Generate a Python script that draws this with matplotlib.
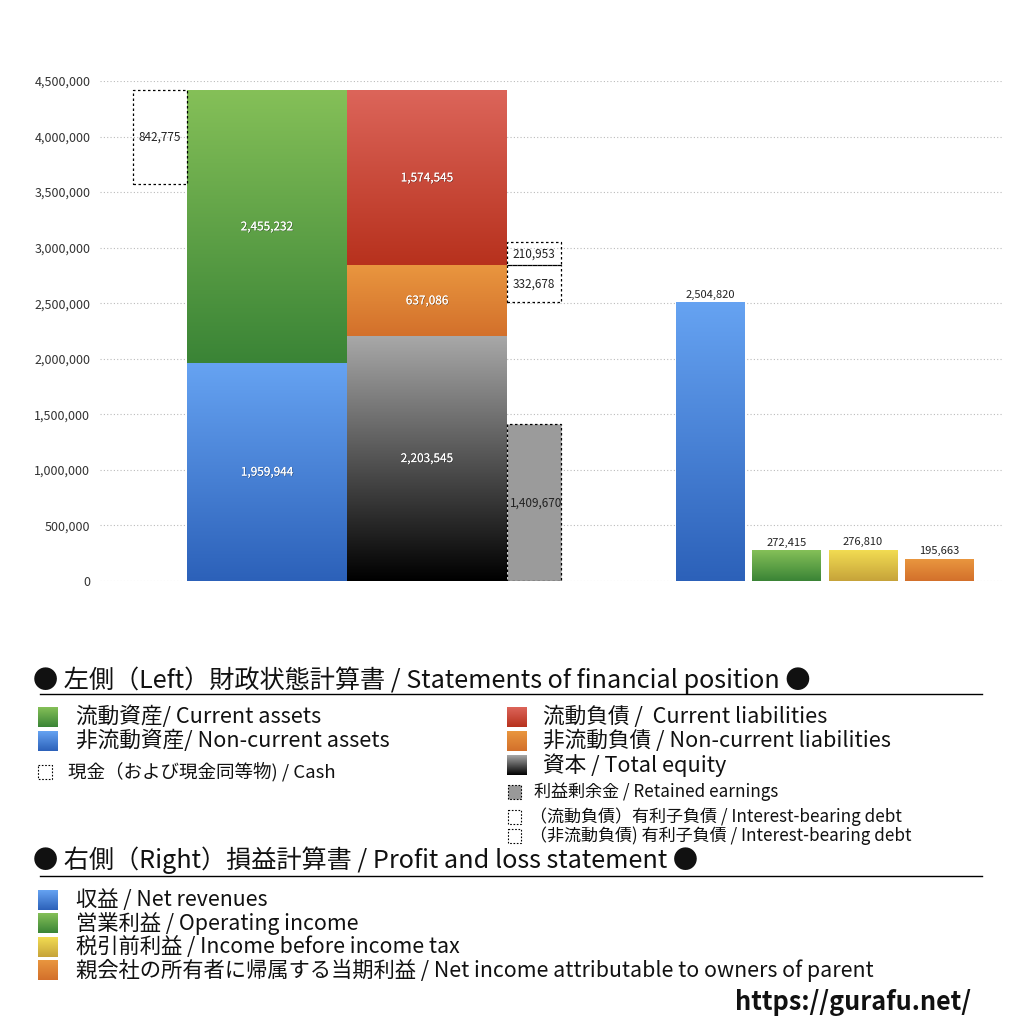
import numpy as np
import matplotlib
matplotlib.use("Agg")
import matplotlib.pyplot as plt
from matplotlib.colors import LinearSegmentedColormap
from matplotlib.patches import Rectangle
import matplotlib.patheffects as pe

plt.rcParams['font.family'] = ['Noto Sans CJK JP', 'DejaVu Sans']

# left side: statement of financial position
non_current_assets = 1959944
current_assets = 2455232
cash = 842775
equity = 2203545
non_current_liab = 637086
current_liab = 1574545
retained_earnings = 1409670
ibd_current = 210953
ibd_non_current = 332678

# right side: profit and loss
pl_values = [2504820, 272415, 276810, 195663]

yticks = np.arange(0, 4500001, 500000)

# gradient colours (top, bottom)
c_blue = ('#66a3f2', '#2c61b9')
c_green = ('#85c058', '#3a8436')
c_red = ('#dc655a', '#b7311d')
c_orange = ('#e9963f', '#d3702b')
c_gray = ('#a8a8a8', '#000000')
c_yellow = ('#f2dc52', '#c6a33a')
pl_colors = [c_blue, c_green, c_yellow, c_orange]

fig = plt.figure(figsize=(10.24, 10.24), dpi=100)
ax = fig.add_axes([100 / 1024, 1 - 581 / 1024, 903 / 1024, 500 / 1024])


def grad_bar(a, x0, w, y0, h, cols, z=2):
    cmap = LinearSegmentedColormap.from_list("g", [cols[1], cols[0]])
    g = np.linspace(0, 1, 256).reshape(-1, 1)
    a.imshow(g, extent=[x0, x0 + w, y0, y0 + h], origin='lower',
             aspect='auto', cmap=cmap, zorder=z, interpolation='bilinear')


def dotted_box(a, x0, w, y0, h, fc='none', z=3, lw=0.9):
    a.add_patch(Rectangle((x0, y0), w, h, facecolor=fc, edgecolor='black',
                          linestyle=(0, (2, 2)), lw=lw, zorder=z))


white_fx = [pe.withSimplePatchShadow(offset=(0.5, -0.5), shadow_rgbFace='#222222', alpha=0.5), pe.Normal()]

big_w = 160
small_w = 54
cash_x = 33
assets_x = cash_x + small_w
liab_x = assets_x + big_w
extra_x = liab_x + big_w

total_assets = non_current_assets + current_assets

# assets column
grad_bar(ax, assets_x, big_w, 0, non_current_assets, c_blue)
grad_bar(ax, assets_x, big_w, non_current_assets, current_assets, c_green)
ax.text(assets_x + big_w / 2, non_current_assets / 2, f"{non_current_assets:,}",
        ha='center', va='center', color='white', fontsize=8.5, path_effects=white_fx, zorder=5)
ax.text(assets_x + big_w / 2, non_current_assets + current_assets / 2, f"{current_assets:,}",
        ha='center', va='center', color='white', fontsize=8.5, path_effects=white_fx, zorder=5)

# cash box
dotted_box(ax, cash_x, small_w, total_assets - cash, cash)
ax.text(cash_x + small_w / 2, total_assets - cash / 2, f"{cash:,}",
        ha='center', va='center', color='#222222', fontsize=8.5, zorder=5)

# liabilities + equity column
grad_bar(ax, liab_x, big_w, 0, equity, c_gray)
grad_bar(ax, liab_x, big_w, equity, non_current_liab, c_orange)
grad_bar(ax, liab_x, big_w, equity + non_current_liab, current_liab, c_red)
for base, v in [(0, equity), (equity, non_current_liab), (equity + non_current_liab, current_liab)]:
    ax.text(liab_x + big_w / 2, base + v / 2, f"{v:,}", ha='center', va='center',
            color='white', fontsize=8.5, path_effects=white_fx, zorder=5)

# retained earnings and interest-bearing debt
dotted_box(ax, extra_x, small_w, 0, retained_earnings, fc='#9b9b9b')
ax.text(extra_x + small_w / 2 + 2, retained_earnings / 2, f"{retained_earnings:,}",
        ha='center', va='center', color='#222222', fontsize=8.5, zorder=5)
top_ncl = equity + non_current_liab
dotted_box(ax, extra_x, small_w, top_ncl, ibd_current)
ax.text(extra_x + small_w / 2, top_ncl + ibd_current / 2, f"{ibd_current:,}",
        ha='center', va='center', color='#222222', fontsize=8.5, zorder=5)
dotted_box(ax, extra_x, small_w, top_ncl - ibd_non_current, ibd_non_current)
ax.text(extra_x + small_w / 2, top_ncl - ibd_non_current / 2, f"{ibd_non_current:,}",
        ha='center', va='center', color='#222222', fontsize=8.5, zorder=5)

# profit and loss bars
pl_x0 = 576
pl_w = 69
pl_pitch = 76.3
for i, (v, cols) in enumerate(zip(pl_values, pl_colors)):
    x0 = pl_x0 + i * pl_pitch
    grad_bar(ax, x0, pl_w, 0, v, cols)
    ax.text(x0 + pl_w / 2, v + 25000, f"{v:,}", ha='center', va='bottom',
            color='#222222', fontsize=8, zorder=5)

ax.set_xlim(0, 903)
ax.set_ylim(0, 4500000)
ax.set_yticks(yticks)
ax.set_yticklabels([f"{t:,}" for t in yticks], fontsize=9, color='#333333')
ax.tick_params(axis='y', length=0, pad=7)
ax.set_xticks([])
ax.yaxis.grid(True, linestyle=(0, (1, 2)), color='#bbbbbb', lw=0.8, zorder=0)
ax.set_axisbelow(True)
for s in ax.spines.values():
    s.set_visible(False)

# legend area in pixel coordinates
lax = fig.add_axes([0, 0, 1, 1])
lax.set_xlim(0, 1024)
lax.set_ylim(1024, 0)
lax.axis('off')
lax.patch.set_alpha(0)

renderer = fig.canvas.get_renderer()


def fit_size(s, width, height=None, weight='normal'):
    t = lax.text(0, 0, s, fontsize=10, weight=weight)
    bb = t.get_window_extent(renderer)
    t.remove()
    size = 10 * width / bb.width
    if height is not None:
        size = min(size, 10 * height / bb.height)
    return size


def txt(x, y, s, size, **kw):
    lax.text(x, y, s, fontsize=size, va='center', ha='left', color='#111111', **kw)


def legend_square(x, y, cols, size=20):
    grad_bar(lax, x, size, y + size / 2, -size, cols, z=3)


head1 = "● 左側（Left）財政状態計算書 / Statements of financial position ●"
head2 = "● 右側（Right）損益計算書 / Profit and loss statement ●"
hs = fit_size(head1, 780)
txt(33, 680, head1, hs)
txt(33, 860, head2, hs)
lax.plot([40, 982], [694, 694], color='black', lw=1)
lax.plot([40, 982], [876, 876], color='black', lw=1)

big_labels_left = ["流動資産/ Current assets", "非流動資産/ Non-current assets"]
big_labels_right = ["流動負債 /  Current liabilities", "非流動負債 / Non-current liabilities", "資本 / Total equity"]
bs = fit_size(big_labels_right[1], 392, height=23.5)

for y, s, cols in zip([717, 741], big_labels_left, [c_green, c_blue]):
    legend_square(38, y, cols)
    txt(76, y, s, bs)
for y, s, cols in zip([717, 741, 765], big_labels_right, [c_red, c_orange, c_gray]):
    legend_square(507, y, cols)
    txt(543, y, s, bs)

small_cash = "現金（および現金同等物) / Cash"
ss = fit_size(small_cash, 268)
lax.add_patch(Rectangle((38, 765), 14, 14, facecolor='none', edgecolor='black',
                        linestyle=(0, (1.5, 1.5)), lw=0.8))
txt(68, 772, small_cash, ss)

small_right = ["利益剰余金 / Retained earnings",
               "（流動負債）有利子負債 / Interest-bearing debt",
               "（非流動負債) 有利子負債 / Interest-bearing debt"]
ss2 = fit_size(small_right[2], 405, height=18.5)
lax.add_patch(Rectangle((508, 785), 13, 14, facecolor='#999999', edgecolor='black',
                        linestyle=(0, (1.5, 1.5)), lw=0.8))
txt(534, 792, small_right[0], ss2)
for y, s in zip([817, 836], small_right[1:]):
    lax.add_patch(Rectangle((508, y - 7), 13, 14, facecolor='none', edgecolor='black',
                            linestyle=(0, (1.5, 1.5)), lw=0.8))
    txt(530, y, s, ss2)

pl_legend = ["収益 / Net revenues", "営業利益 / Operating income",
             "税引前利益 / Income before income tax",
             "親会社の所有者に帰属する当期利益 / Net income attributable to owners of parent"]
ps = fit_size(pl_legend[3], 936, height=23.2)
for y, s, cols in zip([900, 923.5, 947, 970.5], pl_legend, pl_colors):
    legend_square(38, y, cols)
    txt(76, y, s, ps)

url = "https://gurafu.net/"
us = fit_size(url, 237, weight='bold')
txt(735, 1002, url, us, weight='bold')

fig.savefig("out.png", dpi=100, facecolor='white')
